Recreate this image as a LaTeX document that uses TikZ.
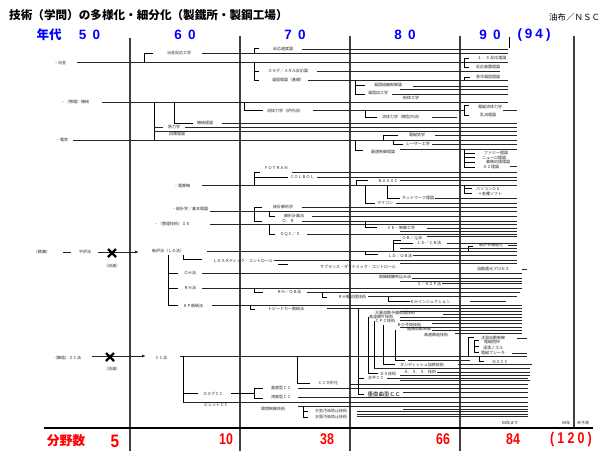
\documentclass[tikz,border=0pt]{standalone}
\usepackage{fontspec}
\newfontfamily\jp{Noto Sans CJK JP}
\newfontfamily\lib{Liberation Sans}
\usetikzlibrary{arrows.meta}
\newcommand\hln[3]{\draw[ln] (#2,#1) -- (#3,#1);}
\newcommand\tlab[4]{\node[lbl] (#1) at (#2,#3) {#4};}
\begin{document}
\begin{tikzpicture}[x=1pt,y=-1pt,
  lbl/.style={font=\jp\fontsize{4}{4}\selectfont, inner sep=0pt, text=black!85},
  ln/.style={line width=0.85pt, black!85},
  br/.style={line width=0.85pt, black},
  era/.style={line width=1.3pt, black!75},
  blu/.style={font=\lib\bfseries\fontsize{13.5}{13.5}\selectfont, text=blue, inner sep=0pt},
  bluk/.style={font=\jp\bfseries\fontsize{12.5}{12.5}\selectfont, text=blue, inner sep=0pt},
  rd/.style={font=\lib\bfseries\fontsize{15.5}{15.5}\selectfont, text=red, inner sep=0pt, xscale=0.8},
  xm/.style={line width=2.2pt, black}]
\useasboundingbox (0,0) rectangle (600,451);
\fill[white] (0,0) rectangle (600,451);

% ---------- header ----------
\node[font=\jp\bfseries\fontsize{11.6}{11.6}\selectfont, anchor=west, inner sep=0pt] (title) at (9,15) {技術（学問）の多様化・細分化（製鐵所・製鋼工場）};
\node[font=\jp\fontsize{8.5}{8.5}\selectfont, anchor=west, inner sep=0pt] (auth) at (549,17) {油布／ＮＳＣ};
\node[bluk] (nendai) at (49,35) {年代};
\node[blu] (y50) at (89.5,35) {5\hspace{6.3pt}0};
\node[blu] (y60) at (185,35) {6\hspace{6.3pt}0};
\node[blu] (y70) at (295,35) {7\hspace{6.3pt}0};
\node[blu] (y80) at (405,35) {8\hspace{6.3pt}0};
\node[blu] (y90) at (490,35) {9\hspace{6.3pt}0};
\node[blu] (y94) at (534,35) {(\hspace{3pt}9\hspace{3pt}4\hspace{3pt})};

% ---------- era lines ----------
\draw[era] (130,38) -- (130,451);
\draw[era] (240,36) -- (240,451);
\draw[era] (350,36) -- (350,451);
\draw[era] (460,36) -- (460,451);
\draw[era] (574,36) -- (574,428);
\draw[br] (509,37) -- (509,48);
\draw[line width=1.2pt, black] (44,428) -- (593,428);

% ---------- bottom ----------
\node[font=\jp\bfseries\fontsize{12.8}{12.8}\selectfont, text=red, inner sep=0pt] (bunya) at (66,441) {分野数};
\node[font=\lib\bfseries\fontsize{18}{18}\selectfont, text=red, inner sep=0pt, xscale=0.85] (n5) at (115,441.5) {5};
\node[rd] (n10) at (226,439) {10};
\node[rd] (n38) at (327,439) {38};
\node[rd] (n66) at (443,439) {66};
\node[rd] (n84) at (513,439) {84};
\node[rd] (n120) at (571,439) {(\hspace{4pt}1\hspace{4pt}2\hspace{4pt}0\hspace{4pt})};
\tlab{t84}{510}{423}{84年まで}
\tlab{t90}{566}{423}{90年}
\tlab{tmi}{583}{423}{未予測}

% ---------- 冶金 ----------
\tlab{yakin}{60}{63}{・冶金}
\hln{62}{77}{508}
\draw[br] (144,62) -- (144,53) -- (153,53);
\tlab{yh}{179}{53}{冶金反応工学}
\hln{53}{202}{508}
\draw[br] (254,53) -- (254,48) -- (259,48);
\tlab{hs}{283}{49}{反応速度論}
\hln{49}{302}{508}
\draw[br] (254,62) -- (254,80) (254,71) -- (259,71) (254,80) -- (259,80);
\tlab{slag}{288}{71}{スラグ／メタル反応論}
\hln{71}{317}{500}
\tlab{gk}{288}{80}{凝固理論（基礎）}
\hln{80}{308}{508}
\draw[br] (355,80) -- (355,94) (355,85) -- (365,85) (355,94) -- (365,94);
\tlab{gs}{388}{85}{凝固組織制御論}
\hln{86}{413}{508}
\hln{89}{400}{508}
\tlab{gkk}{378}{93}{凝固加工学}
\hln{94}{392}{508}
\tlab{fun}{411}{98}{粉体工学}
\draw[br] (469,58) -- (464,58) -- (464,67) -- (469,67);
\tlab{r14}{492}{58}{１．４ 反応理論}
\tlab{rk}{488}{67}{反応装置理論}
\draw[br] (464,80) -- (464,77) -- (470,77);
\tlab{kr}{488}{77}{急冷凝固理論}

% ---------- 機械 ----------
\tlab{kikai}{75}{102}{・（物理）機械}
\hln{102}{102}{508}
\draw[br] (154,102) -- (154,140);
\draw[br] (174,102) -- (174,123) -- (193,123);
\tlab{kr2}{205}{123}{機械理論}
\hln{123}{222}{517}
\tlab{netsu}{174}{127}{熱力学}
\hln{127}{154}{163}
\hln{127}{185}{517}
\hln{131}{154}{517}
\tlab{kairo}{177}{134}{回路理論}
\draw[br] (244,102) -- (244,110) -- (263,110);
\tlab{ryu}{285}{111}{流体力学（炉内流）}
\hln{110}{313}{464}
\draw[br] (469,105) -- (464,105) -- (464,115) -- (469,115);
\tlab{dj}{490}{107}{電磁流体力学}
\hln{110}{503}{517}
\tlab{ran}{488}{115}{乱流理論}
\draw[br] (365,110) -- (365,117) -- (377,117);
\tlab{ryu2}{402}{117}{流体力学（鋳型内流）}
\hln{117}{432}{457}

% ---------- 電気 ----------
\tlab{denki}{62}{140}{・電気}
\hln{140}{73}{517}
\draw[br] (383,140) -- (383,135) -- (398,135);
\tlab{djk}{417}{135}{電磁気学}
\hln{135}{435}{517}
\draw[br] (393,140) -- (393,144) -- (403,144);
\tlab{laser}{418}{144}{レーザー工学}
\hln{144}{432}{517}
\draw[br] (355,140) -- (355,150) -- (363,150);
\tlab{saiteki}{383}{152}{最適制御理論}
\hln{149}{400}{517}
\draw[br] (464,149) -- (464,167);
\foreach \yy in {153,157,162,167} {\draw[br] (464,\yy) -- (475,\yy);}
\tlab{fz}{496}{153}{ファジー理論}
\tlab{nr}{494}{158}{ニューロ理論}
\tlab{gz}{498}{162}{画像処理理論}
\tlab{ai}{491}{167}{ＡＩ理論}
\hln{166}{510}{517}

% ---------- 電算機 ----------
\tlab{densan}{182}{186}{・電算機}
\hln{185}{202}{517}
\draw[br] (254,185) -- (254,172) -- (260,172);
\tlab{fort}{276}{168}{ＦＯＴＲＡＮ}
\hln{172}{292}{517}
\draw[br] (254,177) -- (288,177);
\tlab{cobol}{302}{177}{ＣＯＬＢＯＬ}
\hln{177}{317}{517}
\draw[br] (356,185) -- (356,180) -- (368,180);
\tlab{basic}{388}{181}{ＢＡＳＩＣ}
\hln{180}{400}{517}
\draw[br] (365,185) -- (365,203) -- (375,203);
\tlab{micon}{385}{203}{マイコン}
\hln{203}{396}{517}
\draw[br] (387,185) -- (387,198) -- (400,198);
\tlab{net}{418}{198}{ネットワーク理論}
\hln{198}{435}{517}
\draw[br] (464,185) -- (464,193) (464,188) -- (472,188) (464,193) -- (472,193);
\tlab{pc}{488}{189}{パソコンＯＳ}
\tlab{soft}{490}{194}{＋各種ソフト}

% ---------- 統計・IE ----------
\tlab{toukei}{190}{209}{・統計学／基本理論}
\hln{211}{210}{517}
\draw[br] (254,211) -- (254,207) -- (262,207);
\tlab{tk}{283}{207}{統計解析学}
\hln{207}{302}{517}
\draw[br] (269,211) -- (269,216) -- (275,216);
\tlab{sk}{294}{216}{線形計画法}
\hln{216}{312}{517}
\draw[br] (254,211) -- (254,221) -- (262,221);
\tlab{or}{288}{221}{Ｏ．Ｒ}
\hln{221}{302}{517}
\tlab{ie}{172}{224}{・（管理技術）ＩＥ}
\hln{224}{210}{517}
\draw[br] (269,224) -- (269,234) -- (275,234);
\tlab{sqc}{290}{234}{ＳＱＣ／Ｉ}
\hln{234}{307}{517}
\draw[br] (365,221) -- (365,227) -- (377,227);
\tlab{ve}{401}{228}{ＶＥ・制御工学}
\hln{228}{427}{517}
\hln{231}{400}{517}

% ---------- 精錬 ----------
\tlab{seiren}{42}{252}{（精錬）}
\draw[ln] (63,252) -- (71,252);
\tlab{heiro}{85}{252}{平炉法}
\draw[ln, -{Latex[length=4pt,width=3pt]}] (heiro.east) ++(7,0) -- (139,252);
\draw[xm] (108,249) -- (116,257) (108,257) -- (116,249);
\tlab{sm1}{112}{266}{（消滅）}
\tlab{tenro}{168}{251}{転炉法（ＬＤ法）}
\hln{251}{207}{517}
\draw[br] (183,255) -- (183,259) -- (202,259);
\tlab{lds}{243}{261}{ＬＤスタティック・コントロール}
\hln{260}{274}{517}
\draw[br] (278,264) -- (288,264);
\tlab{sub}{358}{267}{サブランス・ダイナミック・コントロール}
\draw[br] (393,251) -- (393,240) -- (401,240);
\tlab{obq}{412}{238}{ＯＢ／Ｑ法}
\hln{236}{427}{517}
\draw[br] (393,243) -- (413,243);
\tlab{ldcb}{429}{243}{ＬＤ／ＣＢ法}
\hln{243}{447}{517}
\draw[br] (468,251) -- (468,246) -- (473,246);
\tlab{tkn}{491}{245}{転炉多機能化}
\hln{245}{508}{517}
\draw[br] (365,251) -- (365,254) -- (378,254);
\tlab{ldob}{400}{256}{ＬＤ／ＯＢ法}
\hln{255}{413}{517}
\hln{248}{400}{517}
\hln{263}{400}{517}
\draw[br] (168,255) -- (168,305);
\draw[br] (168,273) -- (178,273) (168,288) -- (178,288) (168,305) -- (178,305);
\tlab{oh}{190}{273}{ＯＨ法}
\hln{273}{202}{522}
\tlab{yk}{493}{269}{溶融還元プロセス}
\hln{269}{522}{527}
\tlab{tn}{395}{277}{取鍋精錬吹込み法}
\hln{278}{412}{522}
\hln{281}{400}{522}
\tlab{vkip}{429}{284}{Ｖ／ＫＩＰ法}
\hln{283}{442}{522}
\tlab{rh}{190}{288}{ＲＨ法}
\hln{288}{202}{522}
\draw[br] (254,288) -- (254,292) -- (263,292);
\tlab{rhob}{289}{292}{ＲＨ／ＯＢ法}
\hln{292}{307}{520}
\draw[br] (322,292) -- (322,297) -- (327,297);
\tlab{rhk}{352}{297}{ＲＨ軽処理技術}
\hln{296}{368}{517}
\draw[br] (388,297) -- (388,301) -- (410,301);
\tlab{kh}{430}{302}{ＫＨインジェクション}
\hln{301}{470}{506}
\tlab{kp}{193}{306}{ＫＰ脱硫法}
\hln{305}{212}{522}
\draw[br] (250,305) -- (250,309) -- (255,309);
\tlab{tpd}{286}{309}{トピードカー脱硫法}
\hln{308}{327}{522}
\hln{311}{400}{522}
\tlab{tairyo}{395}{313}{大量溶銑予備処理技術}
\hln{314}{443}{522}
\tlab{kn}{381}{317}{高温鋳片技術}
\hln{317}{400}{522}
\tlab{cpc}{385}{321}{ＣＰＣ技術}
\hln{320}{400}{522}
\tlab{bo}{409}{325}{ＢＯ予知技術}
\hln{323}{432}{522}
\hln{327}{400}{522}
\tlab{rcj}{419}{329}{連鋳自動制御}
\hln{330}{432}{522}
\tlab{kss}{436}{335}{高速鋳造技術}
\hln{333}{455}{522}

% ---------- 鋳造 ----------
\tlab{ic}{67}{358}{（鋳造）ＩＣ法}
\draw[ln, -{Latex[length=4pt,width=3pt]}] (92,356) -- (146,356);
\draw[xm] (106,353) -- (114,361) (106,361) -- (114,353);
\tlab{sm2}{112}{369}{（消滅）}
\tlab{cc}{161}{358}{ＣＣ法}
\hln{356}{180}{527}
\draw[br] (183,356) -- (183,402) (183,393) -- (198,393);
\tlab{slab}{213}{394}{スラブＣＣ}
\draw[br] (231,393) -- (254,393) (254,388) -- (254,398) (254,388) -- (263,388) (254,398) -- (263,398);
\tlab{sc}{281}{388}{垂直型ＣＣ}
\hln{388}{298}{528}
\tlab{wc}{281}{397}{湾曲型ＣＣ}
\hln{397}{298}{528}
\hln{402}{183}{528}
\tlab{bil}{216}{405}{ビレットＣＣ}
\tlab{kankyo}{273}{409}{環境制御技術}
\hln{406}{298}{528}
\draw[br] (303,406) -- (303,417) (303,411) -- (308,411) (303,417) -- (308,417);
\tlab{taiki}{331}{411}{大気汚染防止技術}
\tlab{suishitsu}{331}{417}{水質汚染防止技術}
\hln{411}{357}{528}
\hln{414}{357}{528}
\hln{416}{357}{528}
\hln{409}{403}{528}
\draw[br] (297,356) -- (297,383) -- (310,383);
\tlab{ccl}{328}{383}{ＣＣ大形化}
\hln{384}{350}{528}
% staircase
\draw[br] (358,308) -- (358,394) (358,378) -- (364,378) (358,394) -- (364,394);
\tlab{hcc}{376}{378}{水平ＣＣ}
\hln{378}{387}{528}
\node[font=\jp\fontsize{5.5}{5.5}\selectfont, inner sep=0pt] (sccc) at (384,394) {垂直曲型ＣＣ};
\hln{392}{403}{528}
\draw[br] (368,317) -- (368,373) -- (378,373);
\tlab{ds}{388}{374}{ＤＳ技術}
\hln{372}{437}{530}
\tlab{ass}{420}{372}{Ａ．Ｓ．Ｓ．技術}
\draw[br] (374,321) -- (374,368);
\hln{368}{374}{530}
\draw[br] (383,325) -- (383,364) -- (395,364);
\tlab{tdh}{422}{365}{タンディッシュ加熱技術}
\hln{364}{458}{532}
\draw[br] (395,330) -- (395,360) -- (405,360);
\hln{375}{400}{530}
\hln{380}{400}{530}
% CC right bracket
\draw[br] (468,356) -- (468,337) -- (474,337);
\draw[br] (474,340) -- (474,352) (474,340) -- (479,340) (474,346) -- (479,346) (474,352) -- (479,352);
\tlab{cj}{493}{338}{注湯自動制御}
\tlab{dk}{492}{342}{電磁撹拌}
\tlab{sn}{493}{348}{浸漬ノズル}
\tlab{db}{493}{353}{電磁ブレーキ}
\hln{338}{517}{527}
\hln{353}{512}{527}
\draw[br] (479,356) -- (479,361) -- (484,361);
\tlab{nscc}{500}{362}{ＮＳＣＣ}
\hln{360}{408}{470}
\end{tikzpicture}
\end{document}
